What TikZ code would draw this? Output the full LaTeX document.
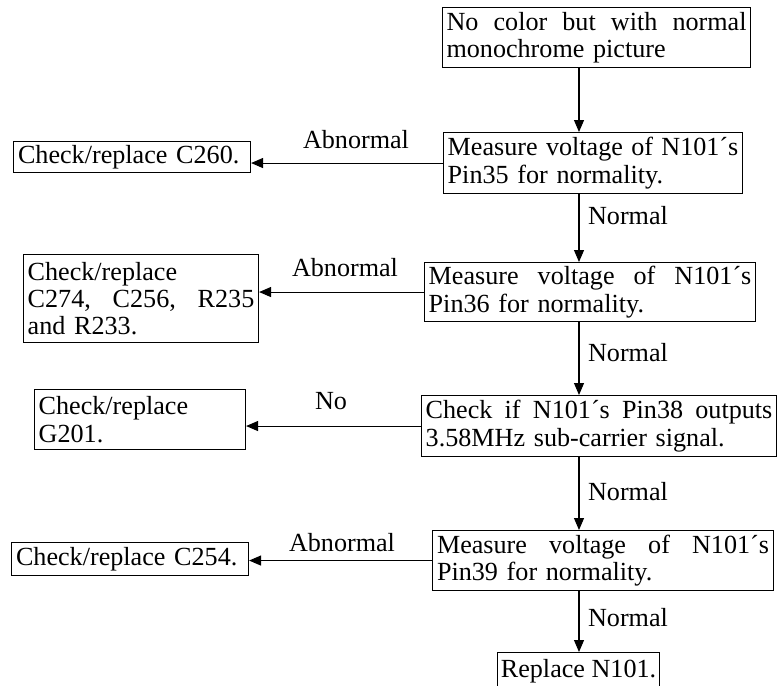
\documentclass[tikz,border=0pt]{standalone}
\usepackage{fontspec}
\setmainfont{Liberation Serif}
\usetikzlibrary{arrows.meta}
\begin{document}
\begin{tikzpicture}[x=0.75pt,y=-0.75pt,
  txt/.style={font=\fontsize{19.6}{20.5}\selectfont},
  box/.style={draw, line width=0.8pt, txt, inner xsep=2.5pt, inner ysep=0pt,
    anchor=north west, align=left},
  lbl/.style={txt, inner sep=0pt},
  conn/.style={line width=0.8pt, -{Triangle[length=9pt,width=7.5pt]}}]
\clip (0,0) rectangle (781,685);
\fill[white] (0,0) rectangle (781,685);
% main column
\node[box, minimum width=231pt, minimum height=45pt, text width=225pt] (A) at (442,7)
  {No\hfill color\hfill but\hfill with\hfill normal\\monochrome picture};
\node[box, minimum width=224.25pt, minimum height=45.75pt, text width=218pt] (B) at (443,132)
  {Measure\hfill voltage\hfill of\hfill N101´s\\Pin35 for normality.};
\node[box, minimum width=248.25pt, minimum height=44.25pt, text width=242pt] (C) at (424,262)
  {Measure\hfill voltage\hfill of\hfill N101´s\\Pin36 for normality.};
\node[box, minimum width=266.25pt, minimum height=45.75pt, text width=260pt] (D) at (421,395)
  {Check\hfill if\hfill N101´s\hfill Pin38\hfill outputs\\3.58MHz sub-carrier signal.};
\node[box, minimum width=255.75pt, minimum height=45pt, text width=249pt] (E) at (432,530)
  {Measure\hfill voltage\hfill of\hfill N101´s\\Pin39 for normality.};
\node[box, minimum width=121.5pt, minimum height=28pt] (F) at (497,652)
  {Replace N101.};
% left column
\node[box, minimum width=177.75pt, minimum height=23.25pt, text width=171pt] (L1) at (13,141)
  {Check/replace C260.};
\node[box, minimum width=176.25pt, minimum height=66pt, text width=170pt] (L2) at (23,254)
  {Check/replace\\C274,\hfill C256,\hfill R235\\and R233.};
\node[box, minimum width=158.25pt, minimum height=45pt, text width=152pt] (L3) at (34,389)
  {Check/replace\\G201.};
\node[box, minimum width=177.75pt, minimum height=24.75pt, text width=171pt] (L4) at (11,542)
  {Check/replace C254.};
% column for vertical connectors
\coordinate (col) at (579,0);
\draw[conn] (A.south -| col) -- (B.north -| col);
\draw[conn] (B.south -| col) -- (C.north -| col);
\draw[conn] (C.south -| col) -- (D.north -| col);
\draw[conn] (D.south -| col) -- (E.north -| col);
\draw[conn] (E.south -| col) -- (F.north -| col);
% horizontal connectors
\draw[conn] (B.west) -- (B.west -| L1.east);
\draw[conn] (C.west) -- (C.west -| L2.east);
\draw[conn] (D.west) -- (D.west -| L3.east);
\draw[conn] (E.west) -- (E.west -| L4.east);
% labels
\node[lbl] (n1) at (628,216) {Normal};
\node[lbl] (n2) at (628,353) {Normal};
\node[lbl] (n3) at (628,492) {Normal};
\node[lbl] (n4) at (628,618) {Normal};
\node[lbl] (a1) at (356,140) {Abnormal};
\node[lbl] (a2) at (345,268) {Abnormal};
\node[lbl] (no) at (331,401) {No};
\node[lbl] (a3) at (342,543) {Abnormal};
\end{tikzpicture}
\end{document}
